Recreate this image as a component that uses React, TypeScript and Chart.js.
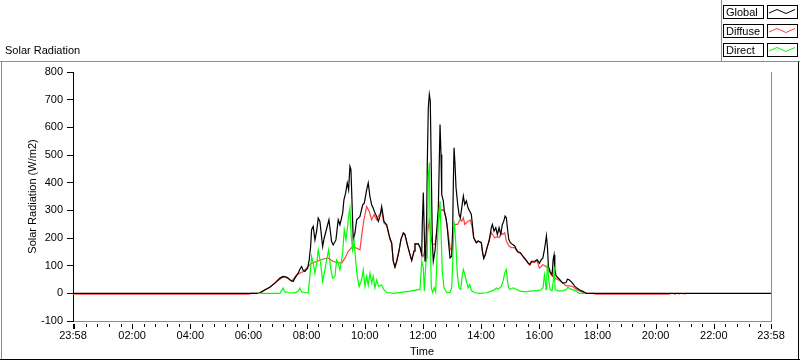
import React, { useEffect, useRef } from 'react';
import { Chart, registerables } from 'chart.js';

Chart.register(...registerables);

const FONT = '"Liberation Sans", Arial, sans-serif';

// x axis: minutes after midnight (23:58 of the previous day = -2)
const tickValues = [-2, 120, 240, 360, 480, 600, 720, 840, 960, 1080, 1200, 1320, 1438];
const tickLabels = ['23:58', '02:00', '04:00', '06:00', '08:00', '10:00', '12:00', '14:00', '16:00', '18:00', '20:00', '22:00', '23:58'];

const seriesNames = ['Global', 'Diffuse', 'Direct'];
const seriesColors = ['#000000', '#ff4040', '#00ff00'];

const globalTimes = [
  -2, 380, 384, 394, 404, 414.5, 424.8, 431.6, 438.6, 445.4, 452.3, 455.8, 462.6, 466.1, 469.6, 472.9, 476.4, 482,
  485.3, 488.2, 490.2, 493.6, 497.1, 500.6, 503.9, 507.4, 513, 516.3, 526, 531.5, 534.8, 540.4, 545.2, 548.7,
  554.3, 556.9, 560.4, 563.8, 566.6, 569.3, 571.4, 573.5, 576.1, 579.7, 583.2, 590, 595.6, 598.9, 603.8, 607.1,
  610.6, 614.1, 617.4, 620.9, 624.5, 627.8, 631.3, 634.8, 639.5, 645.1, 649.9, 652, 655.4, 658.7, 662.2, 665.8,
  670.5, 674.6, 679.4, 682.9, 687.6, 693.2, 696.7, 701.5, 703.5, 710.4, 713.9, 717.4, 718.6, 720.7, 722.7, 724.2,
  726.2, 727.7, 728.9, 731, 733.1, 735.1, 737.2, 739.3, 741.3, 744.8, 748.3, 751.7, 755.2, 757.2, 758.7, 762,
  764, 767.6, 770.2, 773.1, 775.8, 779.3, 781.4, 782.6, 784.1, 786.1, 788.2, 791.7, 794.4, 797.1, 800, 803.3,
  806.2, 809.5, 813, 816.5, 819.8, 824.7, 830.1, 833.6, 840.4, 842.5, 845.4, 848.7, 852.2, 856.3, 861.1, 863.2,
  866.6, 870.2, 873.5, 877, 880.5, 883.8, 886.7, 889.4, 892, 894.1, 897, 900.3, 904.4, 909.4, 912.7, 916.2, 921,
  926.5, 932.1, 936.9, 940.4, 943.7, 950.7, 955.4, 960.2, 963.7, 967.2, 970.5, 972.6, 974.7, 976.7, 978.8, 982.3,
  986.4, 988.5, 990.5, 992, 994.7, 1001.5, 1005, 1008.5, 1015.3, 1018, 1021.5, 1027.7, 1032.5, 1037.4, 1042.8,
  1049.8, 1056.6, 1438,
];
const globalValues = [
  0, 0, 3, 13, 22, 37, 55, 61, 59, 49, 43, 55, 73, 87, 97, 83, 79, 91,
  121, 169, 230, 242, 193, 224, 272, 260, 169, 200, 266, 187, 175, 193, 266, 248,
  290, 338, 362, 399, 374, 459, 447, 338, 193, 218, 266, 278, 320, 326, 374, 399,
  350, 320, 308, 290, 278, 260, 278, 314, 260, 248, 212, 198, 182, 116, 95, 116,
  153, 195, 219, 213, 177, 140, 119, 153, 179, 179, 167, 140, 249, 364, 220, 116,
  177, 285, 466, 671, 719, 695, 442, 189, 116, 153, 225, 309, 610, 502, 357, 334,
  297, 273, 237, 177, 128, 134, 237, 394, 526, 466, 382, 321, 285, 273, 309, 352,
  321, 334, 309, 297, 285, 201, 183, 189, 183, 153, 126, 140, 165, 189, 237, 249,
  225, 237, 213, 237, 213, 249, 261, 279, 273, 237, 195, 183, 177, 171, 158, 150, 147,
  134, 122, 110, 104, 116, 116, 122, 109, 121, 127, 157, 181, 208, 169, 97, 79,
  67, 121, 139, 85, 63, 51, 43, 37, 39, 51, 49, 39, 27, 19, 13,
  7, 0, 0,
];

const diffuseTimes = [
  -2, 362.8, 363.5, 384, 394, 404, 418, 431.6, 441.9, 448.9, 459.3, 472.9, 483.2, 490.2, 500.6, 514.2, 524.5,
  534.8, 545.2, 552.2, 559, 565.8, 574.9, 583.2, 590, 594.7, 598.2, 603.8, 609.2, 614.1, 618.9, 624.5, 629.8,
  634.8, 639.5, 645.1, 649.9, 652, 655.4, 658.7, 662.2, 665.8, 670.5, 674.6, 679.4, 682.9, 687.6, 693.2, 696.7,
  701.5, 703.5, 710.4, 713.9, 717.4, 720.7, 726.2, 729.8, 733.1, 736, 739.3, 744.8, 751.7, 755.2, 760.7, 764,
  769, 775.8, 779.3, 782.6, 786.1, 791.7, 796.5, 800, 803.3, 806.2, 809.5, 813, 817.7, 821.9, 824.7, 830.1,
  833.6, 840.4, 842.5, 845.4, 848.7, 852.2, 856.3, 861.1, 868.1, 872.9, 877, 881.7, 885.2, 888.8, 892, 897.6,
  902.4, 909.4, 912.7, 916.2, 921, 926.5, 932.1, 936.9, 940.4, 943.7, 950.7, 955.4, 960.2, 967.2, 974.1, 978.8,
  984.4, 991.2, 998.2, 1005, 1015.3, 1022.1, 1029.2, 1036, 1042.8, 1049.8, 1056.6, 1074, 1075.2, 1230, 1231,
  1238.3, 1242.5, 1243.5, 1247.2, 1249.3, 1250, 1259, 1261.7,
];
const diffuseValues = [
  -3, -3, 0, 0, 12, 22, 43, 59, 55, 43, 67, 79, 97, 109, 115, 124, 127,
  115, 111, 109, 127, 151, 169, 163, 157, 224, 266, 314, 296, 266, 284, 266, 284,
  296, 254, 245, 210, 195, 182, 116, 95, 116, 153, 195, 215, 210, 177, 140, 119,
  153, 179, 179, 167, 140, 134, 177, 225, 261, 210, 177, 177, 261, 297, 303, 297,
  255, 165, 153, 225, 249, 249, 267, 261, 273, 249, 255, 261, 265, 237, 201, 183,
  189, 183, 153, 126, 140, 165, 189, 219, 201, 205, 201, 219, 213, 219, 189, 171,
  165, 165, 155, 148, 145, 132, 120, 108, 102, 112, 112, 118, 91, 103, 97, 85,
  67, 55, 50, 43, 27, 27, 24, 15, 9, 4, 0, 0, -3, -3, null,
  -3, -3, null, -3, -3, null, -3, -3,
];

const directTimes = [
  379.4, 424.8, 431.6, 435.1, 441.9, 455.8, 462.6, 466.1, 469.6, 476.4, 483.2, 486.7, 490.2, 493.6, 497.1,
  501.8, 503.9, 508.8, 513, 517.7, 521.2, 525.4, 529.5, 533.6, 538.4, 541.9, 545.2, 548.7, 554.3, 557.6, 561.1,
  563.8, 566.6, 569.3, 572, 574.9, 577.6, 581.7, 584.4, 588.5, 593.5, 596.8, 600.3, 603.8, 607.1, 610.6, 614.1,
  617.4, 620.9, 624.5, 628.6, 634.8, 639.5, 645.1, 658.7, 693.2, 713.9, 717.4, 720.7, 722.7, 726.2, 728.9, 731,
  733.1, 735.1, 737.2, 740.1, 743.4, 746.3, 751.7, 755.2, 757.2, 759.9, 763.4, 769, 775.8, 779.3, 781.4, 784.1,
  786.1, 788.2, 790.9, 794.4, 797.9, 801.2, 803.3, 806.2, 809.5, 813, 816.5, 819.8, 826.8, 837.8, 850.8, 861.1,
  868.1, 871.4, 874.9, 878.4, 881.7, 885.2, 888.8, 892, 894.1, 896.2, 899.7, 906.5, 913.5, 920.3, 930.7, 941,
  955.4, 963.7, 967.8, 970.5, 972.6, 974.1, 975.5, 976.7, 979.5, 982.3, 986.4, 989.1, 990.5, 992.5, 1001.5,
  1009.1, 1015.3, 1018.8, 1025.6, 1033.9, 1042.8, 1054.6,
];
const directValues = [
  0, 0, 19, 5, 3, 2, 8, 19, 5, 3, 2, 61, 133, 109, 73,
  121, 157, 109, 43, 85, 121, 157, 91, 55, 61, 121, 109, 85, 145, 230, 193,
  230, 278, 308, 205, 157, 193, 109, 61, 25, 49, 85, 25, 61, 30, 73, 37,
  61, 20, 49, 25, 30, 13, 3, 0, 8, 14, 116, 92, 8, 116, 130, 418,
  472, 201, 20, 3, 20, 5, 260, 334, 225, 80, 20, 3, 3, 20, 116, 261,
  225, 165, 68, 20, 14, 68, 86, 68, 44, 20, 32, 10, 2, 0, 2, 8,
  14, 20, 14, 20, 25, 44, 74, 86, 50, 22, 14, 20, 14, 8, 5, 8,
  10, 13, 20, 67, 40, 13, 60, 109, 49, 13, 10, 49, 97, 13, 8,
  10, 13, 22, 15, 10, 0, 0,
];

const toPoints = (times: number[], values: (number | null)[]) =>
  times.map((t, i) => ({ x: t, y: values[i] }));

const decorPlugin = {
  id: 'decor',
  beforeDraw(chart: any) {
    const ctx = chart.ctx;
    ctx.save();
    ctx.fillStyle = '#ffffff';
    ctx.fillRect(0, 0, chart.width, chart.height);
    ctx.restore();
  },
  afterDraw(chart: any) {
    const ctx = chart.ctx;
    const area = chart.chartArea;
    const xs = chart.scales.x;
    ctx.save();

    // outer frame
    ctx.lineWidth = 1;
    ctx.strokeStyle = '#8c8c8c';
    ctx.beginPath();
    ctx.moveTo(0, 61.5); ctx.lineTo(800, 61.5);
    ctx.moveTo(1.5, 61.5); ctx.lineTo(1.5, 360);
    ctx.moveTo(721.5, 0); ctx.lineTo(721.5, 61.5);
    ctx.stroke();
    ctx.strokeStyle = '#000000';
    ctx.beginPath();
    ctx.moveTo(0, 359.5); ctx.lineTo(800, 359.5);
    ctx.moveTo(798.5, 61.5); ctx.lineTo(798.5, 360);
    ctx.stroke();

    // plot right border
    ctx.strokeStyle = '#8c8c8c';
    ctx.beginPath();
    ctx.moveTo(Math.round(area.right) + 0.5, area.top);
    ctx.lineTo(Math.round(area.right) + 0.5, area.bottom + 1);
    ctx.stroke();

    // x ticks (major + minor)
    ctx.fillStyle = '#000000';
    const drawTick = (v: number, len: number) => {
      const px = Math.round(xs.getPixelForValue(v));
      ctx.fillRect(px, Math.round(area.bottom) + 3, 1, len);
    };
    tickValues.forEach((v) => drawTick(v, 5));
    for (let m = 0; m <= 1416; m += 24) {
      if (m % 120 !== 0 || m === 0) drawTick(m, m === 0 ? 5 : 3);
    }

    // chart caption
    ctx.font = `11px ${FONT}`;
    ctx.textBaseline = 'middle';
    ctx.textAlign = 'left';
    ctx.fillStyle = '#000000';
    ctx.fillText('Solar Radiation', 5, 51);

    // legend
    const rows = [5, 24, 43];
    seriesNames.forEach((name, i) => {
      const top = rows[i];
      ctx.strokeStyle = '#000000';
      ctx.lineWidth = 1;
      ctx.strokeRect(723.5, top + 0.5, 40, 13);
      ctx.strokeRect(767.5, top + 0.5, 30, 13);
      ctx.fillStyle = '#000000';
      ctx.fillText(name, 726, top + 7.5);
      ctx.strokeStyle = seriesColors[i];
      ctx.beginPath();
      ctx.moveTo(769, top + 8);
      ctx.lineTo(777, top + 4.5);
      ctx.lineTo(786, top + 8.5);
      ctx.lineTo(795, top + 4.5);
      ctx.stroke();
    });

    ctx.restore();
  },
};

export default function App() {
  const canvasRef = useRef<HTMLCanvasElement | null>(null);

  useEffect(() => {
    document.body.style.margin = '0';
    const canvas = canvasRef.current;
    if (!canvas) return;
    const font = { family: FONT, size: 11 };
    const chart = new Chart(canvas, {
      type: 'line',
      data: {
        datasets: [
          {
            label: seriesNames[0],
            data: toPoints(globalTimes, globalValues),
            borderColor: seriesColors[0],
            borderWidth: 1.2,
            pointRadius: 0,
            tension: 0,
            spanGaps: false,
            order: 1,
          },
          {
            label: seriesNames[1],
            data: toPoints(diffuseTimes, diffuseValues),
            borderColor: seriesColors[1],
            borderWidth: 1.2,
            pointRadius: 0,
            tension: 0,
            spanGaps: false,
            order: 2,
          },
          {
            label: seriesNames[2],
            data: toPoints(directTimes, directValues),
            borderColor: seriesColors[2],
            borderWidth: 1.2,
            pointRadius: 0,
            tension: 0,
            spanGaps: false,
            order: 0,
          },
        ],
      },
      options: {
        animation: false,
        responsive: false,
        devicePixelRatio: 1,
        layout: { padding: { left: 0, top: 72, right: 29, bottom: 0 } },
        plugins: {
          legend: { display: false },
          tooltip: { enabled: false },
          title: { display: false },
        },
        scales: {
          x: {
            type: 'linear',
            min: -2,
            max: 1438,
            afterFit: (s: any) => { s.height = 40; },
            afterBuildTicks: (s: any) => { s.ticks = tickValues.map((v) => ({ value: v })); },
            ticks: {
              autoSkip: false,
              maxRotation: 0,
              minRotation: 0,
              padding: 2,
              color: '#000000',
              font,
              callback: (v: any) => {
                const i = tickValues.indexOf(Number(v));
                return i >= 0 ? tickLabels[i] : '';
              },
            },
            grid: {
              display: true,
              drawOnChartArea: false,
              drawTicks: true,
              tickLength: 6,
              tickColor: 'rgba(0,0,0,0)',
            },
            border: { display: true, color: '#8c8c8c', width: 1 },
            title: {
              display: true,
              text: 'Time',
              color: '#000000',
              font,
              padding: { top: 0, bottom: 2 },
            },
          },
          y: {
            min: -100,
            max: 800,
            afterFit: (s: any) => { s.width = 73; },
            ticks: { stepSize: 100, padding: 4, color: '#000000', font },
            grid: {
              display: true,
              drawOnChartArea: false,
              drawTicks: true,
              tickLength: 6,
              tickColor: '#000000',
            },
            border: { display: true, color: '#000000', width: 1 },
            title: {
              display: true,
              text: 'Solar Radiation (W/m2)',
              color: '#000000',
              font,
              padding: { top: 26, bottom: 0 },
            },
          },
        },
      },
      plugins: [decorPlugin],
    } as any);
    return () => chart.destroy();
  }, []);

  return (
    <div style={{ width: 800, height: 361 }}>
      <canvas ref={canvasRef} width={800} height={361} style={{ display: 'block' }} />
    </div>
  );
}
